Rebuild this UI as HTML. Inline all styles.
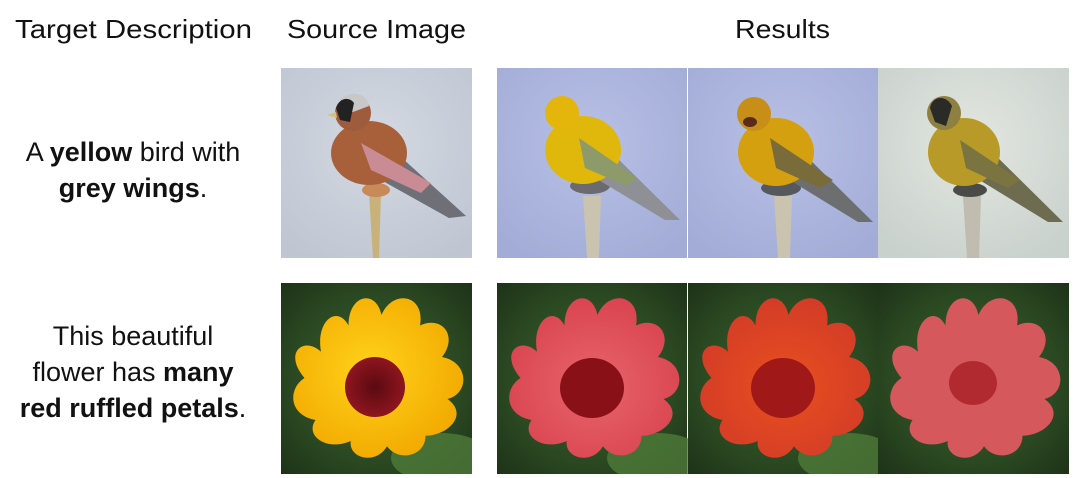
<!DOCTYPE html>
<html><head><meta charset="utf-8"><style>
body{margin:0;background:#fff;width:1076px;height:478px;overflow:hidden}
svg{display:block}
text{font-family:"Liberation Sans",sans-serif;fill:#111}
</style></head><body>
<svg width="1076" height="478" viewBox="0 0 1076 478">
<defs>
<radialGradient id="bgGrey" cx="50%" cy="40%" r="70%"><stop offset="0" stop-color="#d4d9e2"/><stop offset="1" stop-color="#bfc6d2"/></radialGradient>
<radialGradient id="bgBlue" cx="50%" cy="40%" r="70%"><stop offset="0" stop-color="#b8c0e6"/><stop offset="1" stop-color="#a2acd6"/></radialGradient>
<radialGradient id="bgPale" cx="50%" cy="40%" r="70%"><stop offset="0" stop-color="#e2e6e0"/><stop offset="1" stop-color="#c9d1cc"/></radialGradient>
<radialGradient id="bgGreen" cx="50%" cy="50%" r="70%"><stop offset="0" stop-color="#3c5e2c"/><stop offset="0.6" stop-color="#2b4a22"/><stop offset="1" stop-color="#1e3318"/></radialGradient>
<radialGradient id="yel" cx="45%" cy="45%" r="60%"><stop offset="0" stop-color="#ffd21a"/><stop offset="1" stop-color="#f2a900"/></radialGradient>
<radialGradient id="pink" cx="50%" cy="55%" r="60%"><stop offset="0" stop-color="#e8656c"/><stop offset="1" stop-color="#d8424e"/></radialGradient>
<radialGradient id="orng" cx="50%" cy="55%" r="60%"><stop offset="0" stop-color="#e8501f"/><stop offset="1" stop-color="#d23a28"/></radialGradient>
<radialGradient id="ctr" cx="50%" cy="50%" r="50%"><stop offset="0" stop-color="#5a0a10"/><stop offset="1" stop-color="#8e1520"/></radialGradient>
<clipPath id="tile"><rect width="191" height="191"/></clipPath>
<g id="post"><path d="M86 128 L104 128 L102 190 L90 190 Z" fill="#c9c3b0"/></g>
<g id="flowerShape" transform="translate(95,95) scale(1.1,1.05) translate(-95,-95)">
<path d="M30 95 C10 70 30 55 45 70 C40 40 60 25 70 45 C70 15 95 10 100 35 C110 10 140 15 135 45 C155 35 170 55 155 75 C180 80 180 110 160 115 C180 130 160 150 140 150 C140 170 115 175 105 160 C95 178 70 172 72 155 C50 165 30 150 40 135 C15 130 15 105 30 95 Z"/>
</g>
</defs>

<text x="15" y="38" font-size="26" textLength="237" lengthAdjust="spacingAndGlyphs">Target Description</text>
<text x="287" y="38" font-size="26" textLength="179" lengthAdjust="spacingAndGlyphs">Source Image</text>
<text x="735" y="38" font-size="26" textLength="95" lengthAdjust="spacingAndGlyphs">Results</text>

<g font-size="27" text-anchor="middle">
<text x="133" y="161">A <tspan font-weight="bold">yellow</tspan> bird with</text>
<text x="133" y="197"><tspan font-weight="bold">grey wings</tspan>.</text>
</g>
<g font-size="27" text-anchor="middle">
<text x="133" y="345">This beautiful</text>
<text x="133" y="381">flower has <tspan font-weight="bold">many</tspan></text>
<text x="133" y="417"><tspan font-weight="bold">red ruffled petals</tspan>.</text>
</g>

<g transform="translate(281,68)" clip-path="url(#tile)">
<rect width="191" height="190" fill="url(#bgGrey)"/>
<path d="M88 125 L100 125 L98 190 L92 190 Z" fill="#c8b27a"/>
<ellipse cx="95" cy="122" rx="14" ry="7" fill="#c98a5a"/>
<path d="M110 80 L185 148 L168 150 L100 112 Z" fill="#6f6f78"/>
<ellipse cx="88" cy="85" rx="38" ry="32" fill="#a8603a"/>
<path d="M80 75 L150 115 L140 125 L90 102 Z" fill="#c98c95"/>
<circle cx="72" cy="45" r="18" fill="#9f5c3c"/>
<path d="M55 40 C58 23 85 20 88 38 L72 44 Z" fill="#c8c8c8"/>
<path d="M55 40 C58 30 68 28 73 35 L69 54 L59 52 Z" fill="#222"/>
<path d="M55 44 L46 47 L56 50 Z" fill="#d8c07a"/>
</g>
<g transform="translate(497,68)" clip-path="url(#tile)">
<rect width="190" height="190" fill="url(#bgBlue)"/>
<use href="#post"/>
<ellipse cx="93" cy="118" rx="20" ry="8" fill="#6a6a70"/>
<path d="M105 75 L183 152 L168 152 L95 108 Z" fill="#8e9096"/>
<ellipse cx="86" cy="82" rx="38" ry="34" fill="#e0b80c"/>
<path d="M82 70 L140 110 L130 118 L88 100 Z" fill="#8d9a6a"/>
<circle cx="65" cy="45" r="17" fill="#e4b50a"/>
</g>
<g transform="translate(688,68)" clip-path="url(#tile)">
<rect width="190" height="190" fill="url(#bgBlue)"/>
<use href="#post"/>
<ellipse cx="93" cy="120" rx="20" ry="8" fill="#55585c"/>
<path d="M105 75 L185 154 L170 154 L95 108 Z" fill="#6c6e70"/>
<ellipse cx="88" cy="84" rx="38" ry="34" fill="#d4a010"/>
<path d="M82 70 L145 112 L132 120 L88 100 Z" fill="#7a6c3a"/>
<circle cx="66" cy="46" r="17" fill="#c88f18"/>
<ellipse cx="62" cy="54" rx="7" ry="5" fill="#5a2a1a"/>
</g>
<g transform="translate(878,68)" clip-path="url(#tile)">
<rect width="191" height="190" fill="url(#bgPale)"/>
<path d="M85 128 L103 128 L101 190 L89 190 Z" fill="#c0bcb0"/>
<ellipse cx="92" cy="122" rx="17" ry="7" fill="#4a4a48"/>
<path d="M105 75 L185 154 L170 154 L95 108 Z" fill="#6e6c50"/>
<ellipse cx="86" cy="84" rx="36" ry="34" fill="#b89a28"/>
<path d="M82 72 L142 112 L130 120 L88 100 Z" fill="#7a7440"/>
<circle cx="66" cy="45" r="17" fill="#8e8040"/>
<path d="M52 40 C54 28 68 26 74 38 L68 58 L57 54 Z" fill="#2a2a26"/>
</g>

<g transform="translate(281,283)" clip-path="url(#tile)">
<rect width="191" height="191" fill="url(#bgGreen)"/>
<ellipse cx="160" cy="175" rx="50" ry="25" fill="#4f7a3a" opacity="0.8"/>
<use href="#flowerShape" fill="url(#yel)"/>
<circle cx="94" cy="104" r="30" fill="url(#ctr)"/>
</g>
<g transform="translate(497,283)" clip-path="url(#tile)">
<rect width="190" height="191" fill="url(#bgGreen)"/>
<ellipse cx="160" cy="175" rx="50" ry="25" fill="#4f7a3a" opacity="0.8"/>
<use href="#flowerShape" fill="url(#pink)"/>
<ellipse cx="95" cy="105" rx="32" ry="30" fill="#8a1018"/>
</g>
<g transform="translate(688,283)" clip-path="url(#tile)">
<rect width="190" height="191" fill="url(#bgGreen)"/>
<ellipse cx="160" cy="175" rx="50" ry="25" fill="#4f7a3a" opacity="0.8"/>
<use href="#flowerShape" fill="url(#orng)"/>
<ellipse cx="95" cy="105" rx="32" ry="30" fill="#a01818"/>
</g>
<g transform="translate(878,283)" clip-path="url(#tile)">
<rect width="191" height="191" fill="url(#bgGreen)"/>
<use href="#flowerShape" fill="#d4585c"/>
<ellipse cx="95" cy="100" rx="24" ry="22" fill="#b02a30"/>
</g>
</svg>
</body></html>
